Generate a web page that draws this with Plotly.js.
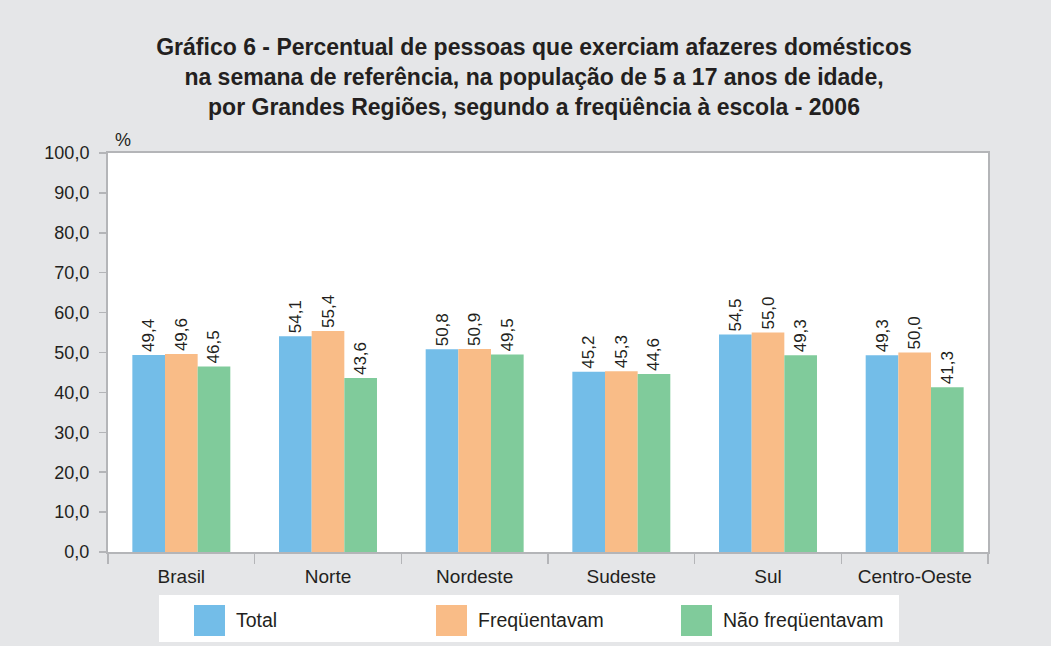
<!DOCTYPE html>
<html>
<head>
<meta charset="utf-8">
<script src="https://cdn.plot.ly/plotly-3.0.1.min.js"></script>
<style>html,body{margin:0;padding:0;background:#e5e6e8;}#chart{width:1051px;height:646px;}</style>
</head>
<body>
<div id="chart"></div>
<script>
const categories = ["Brasil", "Norte", "Nordeste", "Sudeste", "Sul", "Centro-Oeste"];
const seriesNames = ["Total", "Freqüentavam", "Não freqüentavam"];
const total = [49.4, 54.1, 50.8, 45.2, 54.5, 49.3];
const frequentavam = [49.6, 55.4, 50.9, 45.3, 55.0, 50.0];
const naoFrequentavam = [46.5, 43.6, 49.5, 44.6, 49.3, 41.3];
const yTicks = [0, 10, 20, 30, 40, 50, 60, 70, 80, 90, 100];
const colors = ["#73bde8", "#f9bc87", "#80cb9b"];
const FONT = "Liberation Sans, Arial, sans-serif";
const TXT = "#231f20";

const values = [total, frequentavam, naoFrequentavam];
const traces = values.map((v, i) => ({
  type: "bar",
  name: seriesNames[i],
  x: categories,
  y: v,
  marker: {color: colors[i], line: {width: 0}},
  texttemplate: "%{y:.1f}",
  textposition: "outside",
  textangle: -90,
  constraintext: "none",
  cliponaxis: false,
  textfont: {family: FONT, size: 17, color: TXT},
  showlegend: false,
  hoverinfo: "skip"
}));

// custom legend (paper coords): box, swatches, labels
const L = 108, R = 988, T = 153, B = 552;
const px = x => (x - L) / (R - L);
const py = y => (B - y) / (B - T);
const swX = [194, 436, 681];
const shapes = [{
  type: "rect", xref: "paper", yref: "paper",
  x0: px(159), x1: px(899), y0: py(595), y1: py(642),
  fillcolor: "#ffffff", line: {width: 0}
}];
const annotations = [{
  text: "%", xref: "paper", yref: "paper", x: px(123), y: py(140),
  xanchor: "center", yanchor: "middle", showarrow: false,
  font: {family: FONT, size: 18, color: TXT}
}];
seriesNames.forEach((n, i) => {
  shapes.push({
    type: "rect", xref: "paper", yref: "paper",
    x0: px(swX[i]), x1: px(swX[i] + 31), y0: py(605), y1: py(636),
    fillcolor: colors[i], line: {width: 0}
  });
  annotations.push({
    text: n, xref: "paper", yref: "paper", x: px(swX[i] + 40), y: py(620),
    xanchor: "left", yanchor: "middle", showarrow: false,
    font: {family: FONT, size: 19.5, color: TXT}
  });
});

const layout = {
  width: 1051, height: 646,
  paper_bgcolor: "#e5e6e8",
  plot_bgcolor: "#ffffff",
  separators: ",.",
  margin: {l: L, r: 1051 - R, t: T, b: 646 - B, pad: 0},
  font: {family: FONT, color: TXT},
  title: {
    text: "<b>Gráfico 6 - Percentual de pessoas que exerciam afazeres domésticos<br>na semana de referência, na população de 5 a 17 anos de idade,<br>por Grandes Regiões, segundo a freqüência à escola - 2006</b>",
    x: 534 / 1051, xanchor: "center", xref: "container",
    y: 1 - 55 / 646, yanchor: "top", yref: "container",
    font: {family: FONT, size: 23, color: TXT}
  },
  bargap: 0.332,
  bargroupgap: 0,
  barmode: "group",
  xaxis: {
    type: "category",
    tickson: "boundaries",
    ticks: "outside", ticklen: 10, tickcolor: "#b4b5b8", tickwidth: 1.5,
    showline: true, linecolor: "#b4b5b8", linewidth: 2, mirror: true,
    showgrid: false, zeroline: false,
    ticklabelstandoff: 6,
    tickfont: {family: FONT, size: 19, color: TXT},
    fixedrange: true
  },
  yaxis: {
    range: [0, 100],
    tickvals: yTicks,
    tickformat: ".1f",
    ticks: "outside", ticklen: 7, tickcolor: "#b4b5b8", tickwidth: 1.5,
    showline: true, linecolor: "#b4b5b8", linewidth: 2, mirror: true,
    showgrid: false, zeroline: false,
    ticklabelstandoff: 6,
    tickfont: {family: FONT, size: 18, color: TXT},
    fixedrange: true
  },
  shapes: shapes,
  annotations: annotations
};

Plotly.newPlot("chart", traces, layout, {staticPlot: true, displayModeBar: false});
</script>
</body>
</html>
